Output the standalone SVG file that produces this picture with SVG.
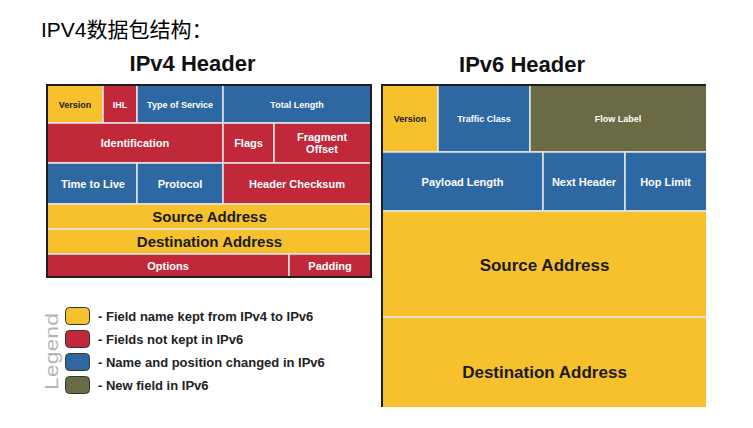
<svg xmlns="http://www.w3.org/2000/svg" width="753" height="428" viewBox="0 0 753 428">
<style>
.y{fill:#F6C12C}
.r{fill:#C1293B}
.b{fill:#2E68A2}
.o{fill:#6A6A44}
.cell{stroke:#E6E6E6;stroke-width:1.5}
.t{font-family:"Liberation Sans",Arial,sans-serif;font-weight:bold;text-anchor:middle}
.w{fill:#FFFFFF}
.k{fill:#1A1A1A}
.s9{font-size:9px}
.s11{font-size:11px}
.s15{font-size:15px}
.s17{font-size:17px}
.head{font-family:"Liberation Sans",Arial,sans-serif;font-weight:bold;font-size:22px;fill:#111;text-anchor:middle}
.lg{font-family:"Liberation Sans",Arial,sans-serif;font-weight:bold;font-size:13px;fill:#222}
.sw{stroke:#333;stroke-width:1}
</style>
<defs>
  <clipPath id="v6clip"><rect x="370" y="80" width="336" height="327"/></clipPath>
</defs>
<rect width="753" height="428" fill="#FFFFFF"/>
<text x="41" y="37" font-family="'Liberation Sans','Noto Sans CJK SC',sans-serif" font-size="21" fill="#000">IPV4数据包结构：</text>

<text class="head" x="192.5" y="71">IPv4 Header</text>
<text class="head" x="522" y="72">IPv6 Header</text>

<g id="ipv4">
  <g id="v4-version"><rect class="cell y" x="47" y="85" width="56" height="38"/><text class="t k s9" x="75" y="108">Version</text></g>
  <g id="v4-ihl"><rect class="cell r" x="103" y="85" width="34" height="38"/><text class="t w s9" x="120" y="108">IHL</text></g>
  <g id="v4-tos"><rect class="cell b" x="137" y="85" width="86" height="38"/><text class="t w s9" x="180" y="108">Type of Service</text></g>
  <g id="v4-totlen"><rect class="cell b" x="223" y="85" width="148" height="38"/><text class="t w s9" x="297" y="108">Total Length</text></g>
  <g id="v4-ident"><rect class="cell r" x="47" y="123" width="176" height="40"/><text class="t w s11" x="135" y="147">Identification</text></g>
  <g id="v4-flags"><rect class="cell r" x="223" y="123" width="51" height="40"/><text class="t w s11" x="248.5" y="147">Flags</text></g>
  <g id="v4-frag"><rect class="cell r" x="274" y="123" width="97" height="40"/><text class="t w s11" x="322" y="141">Fragment</text><text class="t w s11" x="322" y="153">Offset</text></g>
  <g id="v4-ttl"><rect class="cell b" x="47" y="163" width="90" height="41"/><text class="t w s11" x="93" y="188">Time to Live</text></g>
  <g id="v4-proto"><rect class="cell b" x="137" y="163" width="86" height="41"/><text class="t w s11" x="180" y="188">Protocol</text></g>
  <g id="v4-chk"><rect class="cell r" x="223" y="163" width="148" height="41"/><text class="t w s11" x="297" y="188">Header Checksum</text></g>
  <g id="v4-src"><rect class="cell y" x="47" y="204" width="324" height="25"/><text class="t k s15" x="209.5" y="222">Source Address</text></g>
  <g id="v4-dst"><rect class="cell y" x="47" y="229" width="324" height="25"/><text class="t k s15" x="209.5" y="247">Destination Address</text></g>
  <g id="v4-opt"><rect class="cell r" x="47" y="254" width="242" height="23"/><text class="t w s11" x="168" y="269.5">Options</text></g>
  <g id="v4-pad"><rect class="cell r" x="289" y="254" width="82" height="23"/><text class="t w s11" x="330" y="269.5">Padding</text></g>
  <rect x="47" y="85" width="324" height="192" fill="none" stroke="#1E1E1E" stroke-width="2"/>
</g>

<g id="ipv6" clip-path="url(#v6clip)">
  <g id="v6-version"><rect class="cell y" x="382" y="85" width="56" height="67"/><text class="t k s9" x="410" y="122">Version</text></g>
  <g id="v6-tc"><rect class="cell b" x="438" y="85" width="92" height="67"/><text class="t w s9" x="484" y="122">Traffic Class</text></g>
  <g id="v6-flow"><rect class="cell o" x="530" y="85" width="180" height="67"/><text class="t w s9" x="618" y="122">Flow Label</text></g>
  <g id="v6-plen"><rect class="cell b" x="382" y="152" width="161" height="59"/><text class="t w s11" x="462.5" y="186">Payload Length</text></g>
  <g id="v6-nh"><rect class="cell b" x="543" y="152" width="82" height="59"/><text class="t w s11" x="584" y="186">Next Header</text></g>
  <g id="v6-hop"><rect class="cell b" x="625" y="152" width="85" height="59"/><text class="t w s11" x="665.5" y="186">Hop Limit</text></g>
  <g id="v6-src"><rect class="cell y" x="382" y="211" width="328" height="106"/><text class="t k s17" x="544.5" y="271">Source Address</text></g>
  <g id="v6-dst"><rect class="cell y" x="382" y="317" width="328" height="95"/><text class="t k s17" x="544.5" y="378">Destination Address</text></g>
  <path d="M382,410 V85 H710" fill="none" stroke="#1E1E1E" stroke-width="2"/>
</g>

<g id="legend">
  <text transform="translate(58,351.5) rotate(-90)" font-family="'Liberation Sans',Arial,sans-serif" font-size="19" fill="#B5B5B5" text-anchor="middle" textLength="77" lengthAdjust="spacingAndGlyphs">Legend</text>
  <g id="lg-kept"><rect class="y sw" x="65.5" y="307.5" width="24" height="17" rx="4"/><text class="lg" x="98" y="320.5">- Field name kept from IPv4 to IPv6</text></g>
  <g id="lg-notkept"><rect class="r sw" x="65.5" y="330.5" width="24" height="17" rx="4"/><text class="lg" x="98" y="343.5">- Fields not kept in IPv6</text></g>
  <g id="lg-changed"><rect class="b sw" x="65.5" y="353.5" width="24" height="17" rx="4"/><text class="lg" x="98" y="366.5">- Name and position changed in IPv6</text></g>
  <g id="lg-new"><rect class="o sw" x="65.5" y="376.5" width="24" height="17" rx="4"/><text class="lg" x="98" y="389.5">- New field in IPv6</text></g>
</g>
</svg>
